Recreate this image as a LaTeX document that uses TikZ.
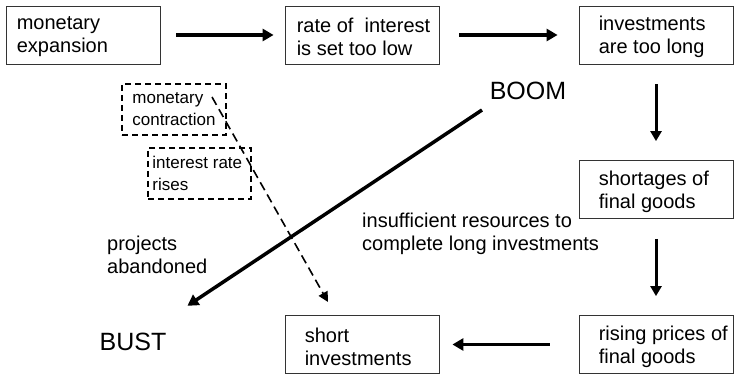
\documentclass[tikz,border=0pt]{standalone}
\usepackage{fontspec}
\setmainfont{Liberation Sans}
\usetikzlibrary{arrows.meta}

\begin{document}
\begin{tikzpicture}[x=1pt,y=-1pt,
  box/.style={draw=black!80,line width=0.8pt,minimum width=154pt,minimum height=58pt,inner sep=0pt},
  dbox/.style={draw,line width=1.6pt,dash pattern=on 6pt off 4pt,minimum height=51pt,inner sep=0pt},
  txt/.style={inner sep=0pt,anchor=west,align=left,font=\fontsize{20}{23}\selectfont},
  small/.style={txt,font=\fontsize{17}{22}\selectfont},
  big/.style={inner sep=0pt,font=\fontsize{25}{28}\selectfont},
  flow/.style={line width=3.5pt,-{Triangle[length=11pt,width=12pt]}}]
  \useasboundingbox (0,0) rectangle (734,374);

  % boxes of the cycle
  \node[box] (me) at (83,35) {};
  \node[box] (ri) at (362,35) {};
  \node[box] (il) at (656,35) {};
  \node[box] (sf) at (656,189.5) {};
  \node[box] (rp) at (656,344.5) {};
  \node[box] (si) at (362,344.5) {};
  \node[txt] (me-t) at ([xshift=11pt,yshift=-2pt]me.west) {monetary\\expansion};
  \node[txt] (ri-t) at ([xshift=12pt,yshift=-2pt]ri.west) {rate of~ interest\\is set too low};
  \node[txt] (il-t) at ([xshift=20pt,yshift=-2pt]il.west) {investments\\are too long};
  \node[txt] (sf-t) at ([xshift=20pt,yshift=-2pt]sf.west) {shortages of\\final goods};
  \node[txt] (rp-t) at ([xshift=20pt,yshift=-2pt]rp.west) {rising prices of\\final goods};
  \node[txt] (si-t) at ([xshift=20pt,yshift=-2pt]si.west) {short\\investments};

  % dashed boxes
  \node[dbox,minimum width=104pt] (mc) at (174,109.5) {};
  \node[dbox,minimum width=103pt] (ir) at (199.5,173.5) {};
  \node[small] (mc-t) at ([xshift=11pt]mc.west) {monetary\\contraction};
  \node[small] (ir-t) at ([xshift=5pt]ir.west) {interest rate\\rises};

  \node[big] (boom) at (528,91) {BOOM};
  \node[big] (bust) at (133,342) {BUST};
  \node[txt] (pa) at (107,255) {projects\\abandoned};
  \node[txt] (ins) at (362,234) {insufficient resources to\\complete long investments};

  \coordinate (b1) at (482,110);
  \coordinate (d1) at (212,97);
  \coordinate (d2) at (328,302);

  \path[flow]
    (me) edge[shorten <=16pt,shorten >=11pt] (ri)
    (ri) edge[shorten <=20pt,shorten >=21pt] (il)
    (rp) edge[shorten <=29pt,shorten >=13pt] (si);
  \path[flow,line width=3pt,-{Triangle[length=10pt,width=11pt]}]
    (il) edge[shorten <=20pt,shorten >=19pt] (sf)
    (sf) edge[shorten <=20pt,shorten >=19pt] (rp);

  \draw[flow,shorten >=49pt] (b1) -- (bust);
  \draw[line width=1.6pt,dash pattern=on 9pt off 5pt,-{Triangle[length=10pt,width=10pt]}] (d1) -- (d2);

\end{tikzpicture}
\end{document}
